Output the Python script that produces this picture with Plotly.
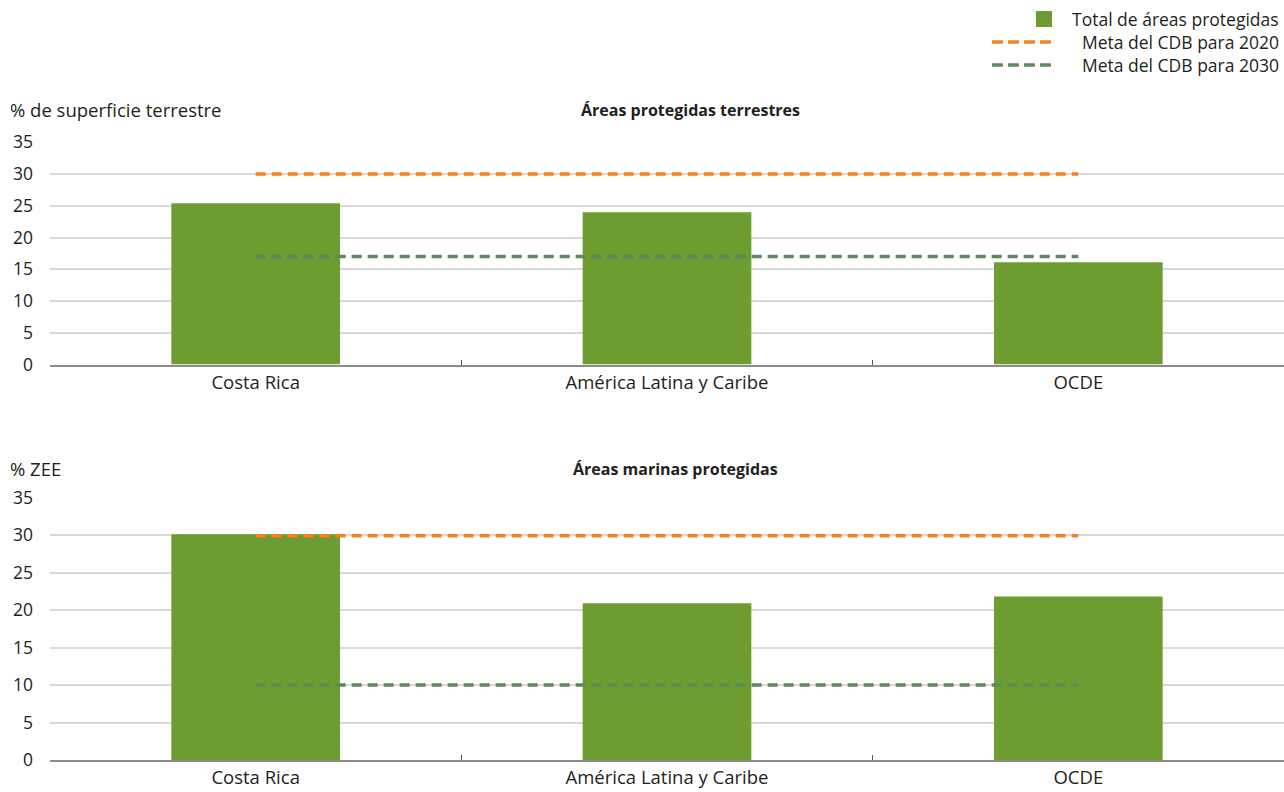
import plotly.graph_objects as go

categories = ["Costa Rica", "América Latina y Caribe", "OCDE"]
terrestrial_total = [25.4, 24.0, 16.1]
terrestrial_target_2020 = [30, 30, 30]
terrestrial_target_2030 = [17, 17, 17]
marine_total = [30.1, 20.9, 21.8]
marine_target_2020 = [29.9, 29.9, 29.9]
marine_target_2030 = [10, 10, 10]
y_ticks = [0, 5, 10, 15, 20, 25, 30, 35]

legend_labels = ["Total de áreas protegidas", "Meta del CDB para 2020", "Meta del CDB para 2030"]

BAR = "#6d9c31"
ORANGE = "#f5821f"
DGREEN = "#5b8a5f"
TXT = "#231f20"
FONT = "Open Sans"

fig = go.Figure()

panels = [
    ("x", "y", terrestrial_total, terrestrial_target_2020, terrestrial_target_2030),
    ("x2", "y2", marine_total, marine_target_2020, marine_target_2030),
]
for xa, ya, tot, t20, t30 in panels:
    fig.add_trace(go.Bar(x=categories, y=tot, xaxis=xa, yaxis=ya, width=0.41,
                         marker=dict(color=BAR, line=dict(width=0)), showlegend=False))
    fig.add_trace(go.Scatter(x=categories, y=t20, xaxis=xa, yaxis=ya, mode="lines",
                             line=dict(color=ORANGE, width=3.5, dash="10px,6px"), showlegend=False))
    fig.add_trace(go.Scatter(x=categories, y=t30, xaxis=xa, yaxis=ya, mode="lines",
                             line=dict(color=DGREEN, width=3.5, dash="10px,6px"), showlegend=False))

H = 792.0
W = 1284.0
xdom = [50 / W, 1.0]
xcommon = dict(domain=xdom, showgrid=False, showline=True, linecolor="#8c8c8c", linewidth=2,
               ticks="inside", tickson="boundaries", ticklen=5, tickcolor="#555555",
               tickfont=dict(size=18.5, color=TXT, family=FONT), zeroline=False,
               categoryorder="array", categoryarray=categories, fixedrange=True)
ycommon = dict(range=[0, 35], tickvals=y_ticks, showgrid=True, gridcolor="#d9d9d9", gridwidth=1.5,
               zeroline=False, showline=False, ticks="", ticklabelstandoff=16,
               tickfont=dict(size=17.5, color=TXT, family=FONT), fixedrange=True)

fig.update_layout(
    width=1284, height=792,
    margin=dict(l=0, r=0, t=0, b=0, autoexpand=False),
    paper_bgcolor="white", plot_bgcolor="white",
    font=dict(family=FONT, size=18, color=TXT),
    bargap=0.59,
    xaxis=dict(**xcommon, anchor="y"),
    yaxis=dict(**ycommon, domain=[1 - 364.5 / H, 1 - 142.3 / H], anchor="x"),
    xaxis2=dict(**xcommon, anchor="y2"),
    yaxis2=dict(**ycommon, domain=[1 - 760 / H, 1 - 497.5 / H], anchor="x2"),
)

annotations = [
    dict(text="% de superficie terrestre", x=8 / W, y=1 - 110 / H, xanchor="left", yanchor="middle", size=18.5),
    dict(text="<b>Áreas protegidas terrestres</b>", x=690 / W, y=1 - 110 / H, xanchor="center", yanchor="middle", size=16),
    dict(text="% ZEE", x=8 / W, y=1 - 468 / H, xanchor="left", yanchor="middle", size=18.5),
    dict(text="<b>Áreas marinas protegidas</b>", x=676 / W, y=1 - 469 / H, xanchor="center", yanchor="middle", size=16),
]
legend_y = [19, 42, 65]
for lab, ly in zip(legend_labels, legend_y):
    annotations.append(dict(text=lab, x=1281 / W, y=1 - ly / H, xanchor="right", yanchor="middle", size=17.5))
for a in annotations:
    s = a.pop("size")
    a.update(xref="paper", yref="paper", showarrow=False, font=dict(size=s, color=TXT, family=FONT))
fig.update_layout(annotations=annotations)

shapes = [
    dict(type="rect", xref="paper", yref="paper", x0=1036 / W, x1=1052 / W,
         y0=1 - (legend_y[0] + 8) / H, y1=1 - (legend_y[0] - 8) / H,
         fillcolor=BAR, line=dict(width=0)),
    dict(type="line", xref="paper", yref="paper", x0=992 / W, x1=1052 / W,
         y0=1 - legend_y[1] / H, y1=1 - legend_y[1] / H,
         line=dict(color=ORANGE, width=3.5, dash="11px,5px")),
    dict(type="line", xref="paper", yref="paper", x0=992 / W, x1=1052 / W,
         y0=1 - legend_y[2] / H, y1=1 - legend_y[2] / H,
         line=dict(color=DGREEN, width=3.5, dash="11px,5px")),
]
fig.update_layout(shapes=shapes)

fig.write_html("out.html")
